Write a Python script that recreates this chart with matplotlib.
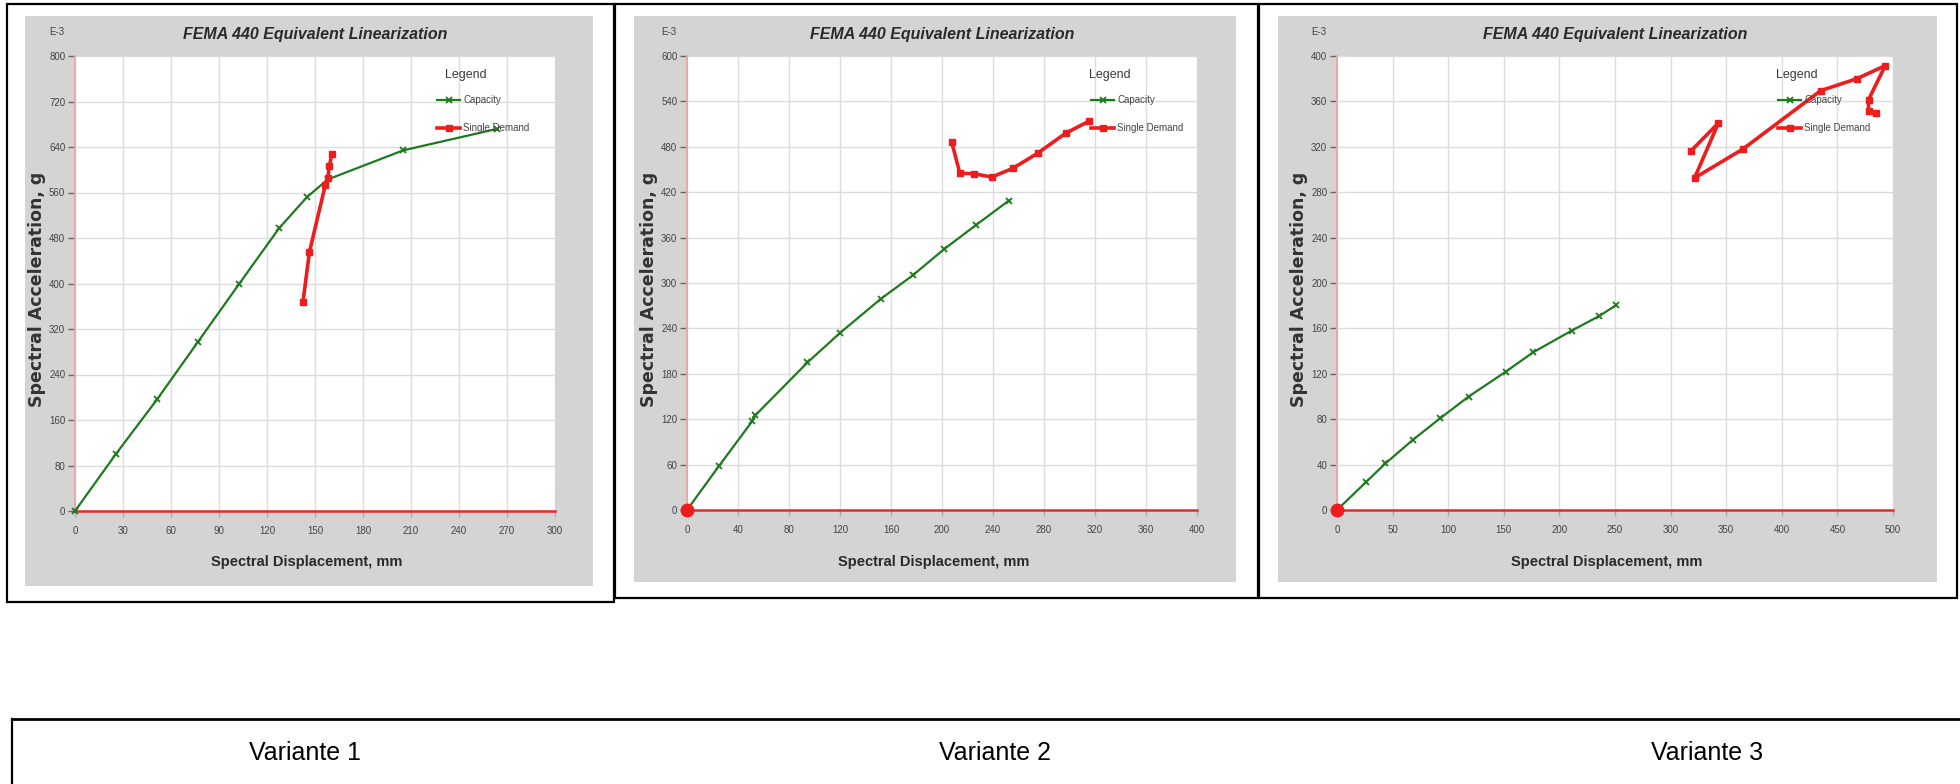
import matplotlib
matplotlib.use("Agg")
import matplotlib.pyplot as plt
from matplotlib.lines import Line2D
from matplotlib.patches import Rectangle

W, H = 1960, 784
SANS = ["Liberation Sans", "DejaVu Sans"]
plt.rcParams["font.family"] = SANS

# ---- data (spectral displacement in mm, spectral acceleration in 1E-3 g) ----
v1_capacity_x = [0, 25.5, 51.5, 77, 102.5, 127.5, 145, 158, 205, 264]
v1_capacity_y = [0, 100, 197, 298, 399, 497, 552, 583, 634, 672]
v1_demand_x = [142.5, 146.5, 156.5, 158.0, 159.0, 160.5]
v1_demand_y = [368, 455, 574, 586, 606, 628]
v1_origin_x, v1_origin_y = [], []

v2_capacity_x = [0, 25, 51, 53.5, 94.5, 120, 152, 177, 201.5, 227, 252.5]
v2_capacity_y = [0, 58, 117, 125, 195, 234, 279, 310, 344.5, 377, 409]
v2_demand_x = [207.5, 214, 225, 239, 255.5, 275, 297, 315.5]
v2_demand_y = [487, 445, 444.5, 440, 451.5, 471.5, 498, 514]
v2_origin_x, v2_origin_y = [0], [0]

v3_capacity_x = [0, 26, 43.5, 68.5, 93, 118.5, 152, 176.5, 211, 236, 251]
v3_capacity_y = [0, 24.5, 41, 62, 81, 100, 122, 139, 158, 171, 180.5]
v3_demand_x = [318.5, 343, 321.5, 365, 435, 467.5, 493, 478, 478, 485]
v3_demand_y = [316.5, 341, 292.5, 318, 369.5, 380, 391.5, 361.5, 351.5, 349.5]
v3_origin_x, v3_origin_y = [0], [0]

v1_xticks = list(range(0, 301, 30))
v1_yticks = list(range(0, 801, 80))
v2_xticks = list(range(0, 401, 40))
v2_yticks = list(range(0, 601, 60))
v3_xticks = list(range(0, 501, 50))
v3_yticks = list(range(0, 401, 40))

variant_names = ["Variante 1", "Variante 2", "Variante 3"]
title_text = "FEMA 440 Equivalent Linearization"
xlabel_text = "Spectral Displacement, mm"
ylabel_text = "Spectral Acceleration, g"
scale_text = "E-3"
legend_title = "Legend"
series_names = ["Capacity", "Single Demand"]

GREEN = "#1f7a1f"
RED = "#ee1c1c"
GRAY_BG = "#d4d4d4"

panels = [
    dict(cx=v1_capacity_x, cy=v1_capacity_y, dx=v1_demand_x, dy=v1_demand_y,
         ox=v1_origin_x, oy=v1_origin_y, xt=v1_xticks, yt=v1_yticks,
         box=(7, 4, 614, 602), bg=(25, 16, 593, 586), plot=(75, 56, 555, 511),
         legend=(437, 466)),
    dict(cx=v2_capacity_x, cy=v2_capacity_y, dx=v2_demand_x, dy=v2_demand_y,
         ox=v2_origin_x, oy=v2_origin_y, xt=v2_xticks, yt=v2_yticks,
         box=(615, 4, 1258, 598), bg=(634, 16, 1236, 582), plot=(687, 56, 1197, 510),
         legend=(1091, 1110)),
    dict(cx=v3_capacity_x, cy=v3_capacity_y, dx=v3_demand_x, dy=v3_demand_y,
         ox=v3_origin_x, oy=v3_origin_y, xt=v3_xticks, yt=v3_yticks,
         box=(1259, 4, 1957, 598), bg=(1278, 16, 1937, 582), plot=(1337, 56, 1893, 510),
         legend=(1778, 1797)),
]

fig = plt.figure(figsize=(W / 100, H / 100), dpi=100)
fig.patch.set_facecolor("white")


def fx(x):
    return x / W


def fy(y):
    return 1 - y / H


def rect(x0, y0, x1, y1, **kw):
    r = Rectangle((fx(x0), fy(y1)), fx(x1) - fx(x0), fy(y0) - fy(y1),
                  transform=fig.transFigure, zorder=-5, **kw)
    fig.patches.append(r)


for p in panels:
    bx0, by0, bx1, by1 = p["box"]
    rect(bx0, by0, bx1, by1, fill=False, edgecolor="black", linewidth=1.6)
    gx0, gy0, gx1, gy1 = p["bg"]
    rect(gx0, gy0, gx1, gy1, facecolor=GRAY_BG, edgecolor="none")

    px0, py0, px1, py1 = p["plot"]
    ax = fig.add_axes([fx(px0), fy(py1), fx(px1) - fx(px0), fy(py0) - fy(py1)])
    ax.set_facecolor("white")
    ax.set_xlim(p["xt"][0], p["xt"][-1])
    ax.set_ylim(p["yt"][0], p["yt"][-1])
    ax.set_xticks(p["xt"])
    ax.set_yticks(p["yt"])
    ax.grid(True, color="#dcdcdc", linewidth=1.0)
    ax.set_axisbelow(True)
    for s in ("top", "right"):
        ax.spines[s].set_visible(False)
    ax.spines["left"].set_color("#e8a8a8")
    ax.spines["left"].set_linewidth(1.4)
    ax.spines["bottom"].set_color("#e52a2a")
    ax.spines["bottom"].set_linewidth(1.8)
    ax.tick_params(axis="y", length=5, width=1, color="#666666", pad=2,
                   labelsize=7, labelcolor="#444444")
    ax.tick_params(axis="x", length=4, width=1, color="#aaaaaa", pad=7,
                   labelsize=7, labelcolor="#444444")

    ax.plot(p["cx"], p["cy"], color=GREEN, linewidth=1.6, marker="x",
            markersize=5, markeredgewidth=1.3, zorder=3, clip_on=False)
    ax.plot(p["dx"], p["dy"], color=RED, linewidth=2.6, marker="s",
            markersize=4, zorder=4, clip_on=False)
    if p["ox"]:
        ax.plot(p["ox"], p["oy"], linestyle="none", marker="o", color=RED,
                markersize=9, zorder=5, clip_on=False)

    # legend
    lx, ltx = p["legend"]
    handles = [
        Line2D([], [], color=GREEN, linewidth=1.6, marker="x", markersize=5,
               markeredgewidth=1.3),
        Line2D([], [], color=RED, linewidth=2.6, marker="s", markersize=4),
    ]
    leg = ax.legend(handles, series_names, frameon=False, loc="upper left",
                    bbox_to_anchor=((lx - px0) / (px1 - px0), (py1 - 95) / (py1 - py0)),
                    borderpad=0, borderaxespad=0, fontsize=7, handlelength=2.4,
                    handletextpad=0.3, labelspacing=1.85, markerscale=1.0)
    for t in leg.get_texts():
        t.set_color("#444444")
    ax.text((ltx - px0) / (px1 - px0), (py1 - 75) / (py1 - py0), legend_title,
            transform=ax.transAxes, ha="center", va="center", fontsize=9,
            color="#3a3a3a")

    # labels around the chart
    fig.text(fx(px0 - 18), fy(32), scale_text, ha="center", va="center",
             fontsize=7, color="#444444")
    fig.text(fx((px0 + px1) / 2), fy(35), title_text, ha="center", va="center",
             fontsize=11.5, fontweight="bold", fontstyle="italic", color="#2a2a2a")
    fig.text(fx((px0 + px1) / 2 - 8), fy(562), xlabel_text, ha="center", va="center",
             fontsize=10.5, fontweight="bold", color="#2a2a2a")
    fig.text(fx(px0 - 38), fy((py0 + py1) / 2 + 6), ylabel_text, rotation=90,
             ha="center", va="center", fontsize=12.5, fontweight="bold",
             family=["DejaVu Sans"], color="#333333")

# bottom caption row
fig.lines.append(Line2D([fx(12), fx(W)], [fy(719), fy(719)], transform=fig.transFigure,
                        color="black", linewidth=2.0))
fig.lines.append(Line2D([fx(12), fx(12)], [fy(719), fy(H)], transform=fig.transFigure,
                        color="black", linewidth=1.6))
for name, cx in zip(variant_names, [305, 995, 1707]):
    fig.text(fx(cx), fy(753), name, ha="center", va="center", fontsize=18,
             family=["Liberation Sans", "DejaVu Sans"], color="black")

fig.savefig("out.png", dpi=100, facecolor="white")
